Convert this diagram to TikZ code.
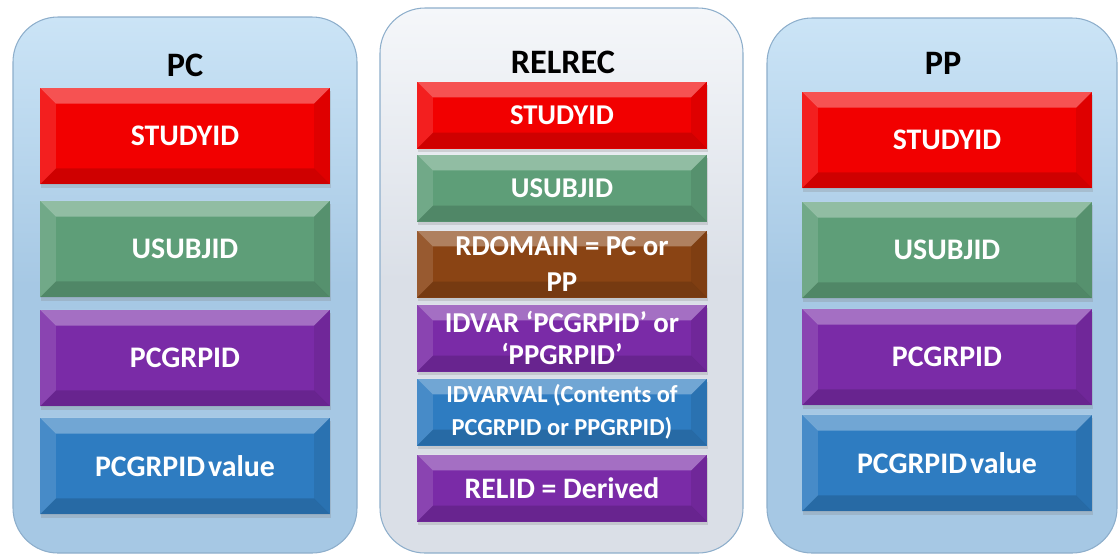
\documentclass[tikz,border=0pt]{standalone}
\usepackage{fontspec}
\setmainfont{Carlito}
\usetikzlibrary{shadows}

\definecolor{paneltop}{HTML}{CBE4F6}
\definecolor{panelblue}{HTML}{A6C8E4}
\definecolor{panelwhite}{HTML}{F5F7FA}
\definecolor{panelgrey}{HTML}{DADFE7}
\definecolor{panelline}{HTML}{8DAECB}
\definecolor{keyred}{HTML}{F20000}
\definecolor{keygreen}{HTML}{5E9E78}
\definecolor{keypurple}{HTML}{7A2BA7}
\definecolor{keyblue}{HTML}{2E7CC1}
\definecolor{keybrown}{HTML}{8A4414}

\tikzset{
  panel/.style={rounded corners=0.9cm, draw=panelline, line width=0.6pt},
  bluepanel/.style={panel, top color=paneltop, bottom color=panelblue, middle color=panelblue},
  greypanel/.style={panel, top color=panelwhite, bottom color=panelgrey, middle color=panelgrey},
  heading/.style={font=\fontsize{19.5}{21}\selectfont\bfseries, text=black},
  field/.style={minimum width=5.8cm, inner sep=2pt, align=center, text=white,
    font=\fontsize{17}{19}\selectfont\bfseries,
    drop shadow={opacity=.25, shadow xshift=0.5pt, shadow yshift=-2pt},
    path picture={
      \fill[white,opacity=.32] (path picture bounding box.north west) -- (path picture bounding box.north east)
        -- ([xshift=-9pt,yshift=-9pt]path picture bounding box.north east) -- ([xshift=9pt,yshift=-9pt]path picture bounding box.north west) -- cycle;
      \fill[white,opacity=.12] (path picture bounding box.north west) -- ([xshift=9pt,yshift=-9pt]path picture bounding box.north west)
        -- ([xshift=9pt,yshift=9pt]path picture bounding box.south west) -- (path picture bounding box.south west) -- cycle;
      \fill[black,opacity=.08] (path picture bounding box.north east) -- ([xshift=-9pt,yshift=-9pt]path picture bounding box.north east)
        -- ([xshift=-9pt,yshift=9pt]path picture bounding box.south east) -- (path picture bounding box.south east) -- cycle;
      \fill[black,opacity=.14] (path picture bounding box.south west) -- (path picture bounding box.south east)
        -- ([xshift=-9pt,yshift=9pt]path picture bounding box.south east) -- ([xshift=9pt,yshift=9pt]path picture bounding box.south west) -- cycle;
    }},
  tallfield/.style={field, minimum height=1.93cm},
  shortfield/.style={field, minimum height=1.34cm, font=\fontsize{16.3}{19}\selectfont\bfseries},
}

\begin{document}
\begin{tikzpicture}[x=0.02cm, y=-0.02cm]
  \useasboundingbox (0,0) rectangle (1119,556);

  %draw panels
  \draw[bluepanel] (13,17) rectangle (357,553);
  \draw[greypanel] (380,8) rectangle (743,553);
  \draw[bluepanel] (767,18) rectangle (1117,553);

  %draw titles
  \node[heading] (pcTitle) at (185,65) {PC};
  \node[heading] (relTitle) at (563,62) {RELREC};
  \node[heading] (ppTitle) at (943,63) {PP};

  %PC fields
  \node[tallfield, fill=keyred] (pcStudy) at (185,136) {STUDYID};
  \node[tallfield, fill=keygreen] (pcSubj) at (185,249) {USUBJID};
  \node[tallfield, fill=keypurple] (pcGrp) at (185,358) {PCGRPID};
  \node[tallfield, fill=keyblue] (pcVal) at (185,466) {PCGRPID\hspace{.1em}value};

  %RELREC fields
  \node[shortfield, fill=keyred] (relStudy) at (562,115) {STUDYID};
  \node[shortfield, fill=keygreen] (relSubj) at (562,188) {USUBJID};
  \node[shortfield, fill=keybrown, font=\fontsize{16.4}{20}\selectfont\bfseries] (relDomain) at (562,264) {RDOMAIN = PC or\\PP};
  \node[shortfield, fill=keypurple, font=\fontsize{16.4}{18.7}\selectfont\bfseries] (relVar) at (562,338) {IDVAR ‘PCGRPID’ or\\‘PPGRPID’};
  \node[shortfield, fill=keyblue, font=\fontsize{13.9}{18.7}\selectfont\bfseries] (relVal) at (562,412) {IDVARVAL (Contents of\\PCGRPID or PPGRPID)};
  \node[shortfield, fill=keypurple, font=\fontsize{16.9}{19}\selectfont\bfseries] (relId) at (562,488) {RELID = Derived};

  %PP fields
  \node[tallfield, fill=keyred] (ppStudy) at (947,140) {STUDYID};
  \node[tallfield, fill=keygreen] (ppSubj) at (947,250) {USUBJID};
  \node[tallfield, fill=keypurple] (ppGrp) at (947,357) {PCGRPID};
  \node[tallfield, fill=keyblue] (ppVal) at (947,463) {PCGRPID\hspace{.1em}value};
\end{tikzpicture}
\end{document}
